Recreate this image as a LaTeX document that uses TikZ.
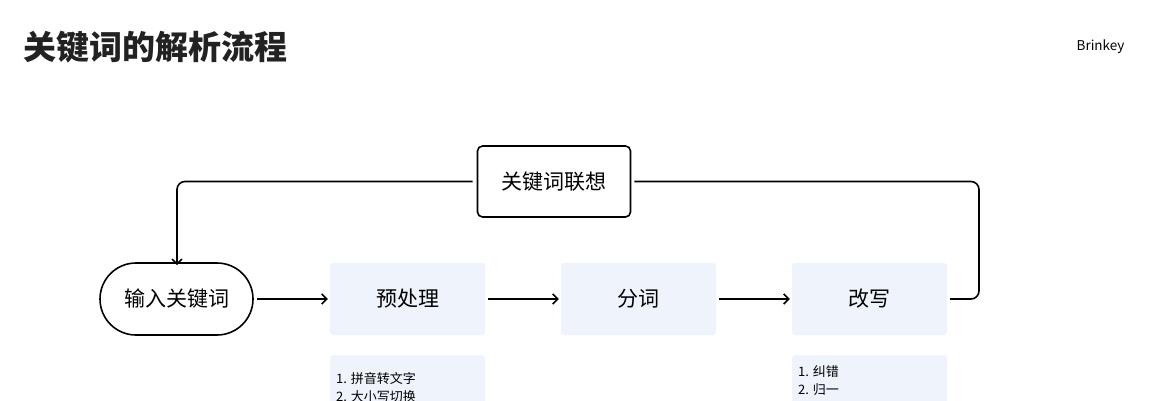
\documentclass[tikz,border=0pt]{standalone}
\usepackage{fontspec}
\setmainfont{Noto Sans CJK SC}
\usetikzlibrary{arrows.meta}
\definecolor{pale}{HTML}{EFF3FC}
\definecolor{ink}{HTML}{222222}
\begin{document}
\begin{tikzpicture}[x=1pt,y=-1pt,
  lbl/.style={font=\fontsize{21}{25}\selectfont},
  pbox/.style={fill=pale,rounded corners=3pt,minimum width=155pt,minimum height=72pt,inner sep=0pt,lbl},
  arr/.style={line width=1.6pt,-{Straight Barb[length=5pt,width=10pt]}},
  ln/.style={line width=1.6pt,rounded corners=8pt}]
\useasboundingbox (0,0) rectangle (1149,400);
\clip (0,0) rectangle (1149,400);
\node[anchor=west,text=ink,font=\fontsize{33}{38}\selectfont\bfseries] (title) at (20,47) {关键词的解析流程};
\node[anchor=east,font=\fontsize{13.5}{16}\selectfont] (brand) at (1128,47) {Brinkey};
\node[draw,line width=1.6pt,rounded corners=5pt,minimum width=153pt,minimum height=71pt,lbl] (assoc) at (554,181.5) {关键词联想};
\node[draw,line width=1.6pt,rounded corners=36pt,minimum width=153pt,minimum height=72pt,lbl] (input) at (176.5,299) {输入关键词};
\node[pbox] (pre) at (407.5,299) {预处理};
\node[pbox] (seg) at (638.5,299) {分词};
\node[pbox] (rew) at (869.5,299) {改写};
\node[fill=pale,rounded corners=3pt,minimum width=155pt,minimum height=100pt,anchor=north] (pred) at (407.5,355) {};
\node[fill=pale,rounded corners=3pt,minimum width=155pt,minimum height=100pt,anchor=north] (rewd) at (869.5,355) {};
\node[anchor=north west,align=left,font=\fontsize{13}{18}\selectfont,inner sep=0pt] (pret) at (336,372) {1. 拼音转文字\\2. 大小写切换};
\node[anchor=north west,align=left,font=\fontsize{13}{18}\selectfont,inner sep=0pt] (rewt) at (798,365) {1. 纠错\\2. 归一};
\draw[arr] ([xshift=3pt]input.east) -- ([xshift=-2pt]pre.west);
\draw[arr] ([xshift=3pt]pre.east) -- ([xshift=-2pt]seg.west);
\draw[arr] ([xshift=3pt]seg.east) -- ([xshift=-2pt]rew.west);
\coordinate (c1) at (979,299);
\coordinate (c2) at (979,181.5);
\draw[ln] ([xshift=3pt]rew.east) -- (c1) -- (c2) -- ([xshift=3pt]assoc.east);
\coordinate (c3) at (177,181.5);
\draw[ln,arr] ([xshift=-4pt]assoc.west) -- (c3) -- ([yshift=-3pt]input.north -| c3);
\end{tikzpicture}
\end{document}
